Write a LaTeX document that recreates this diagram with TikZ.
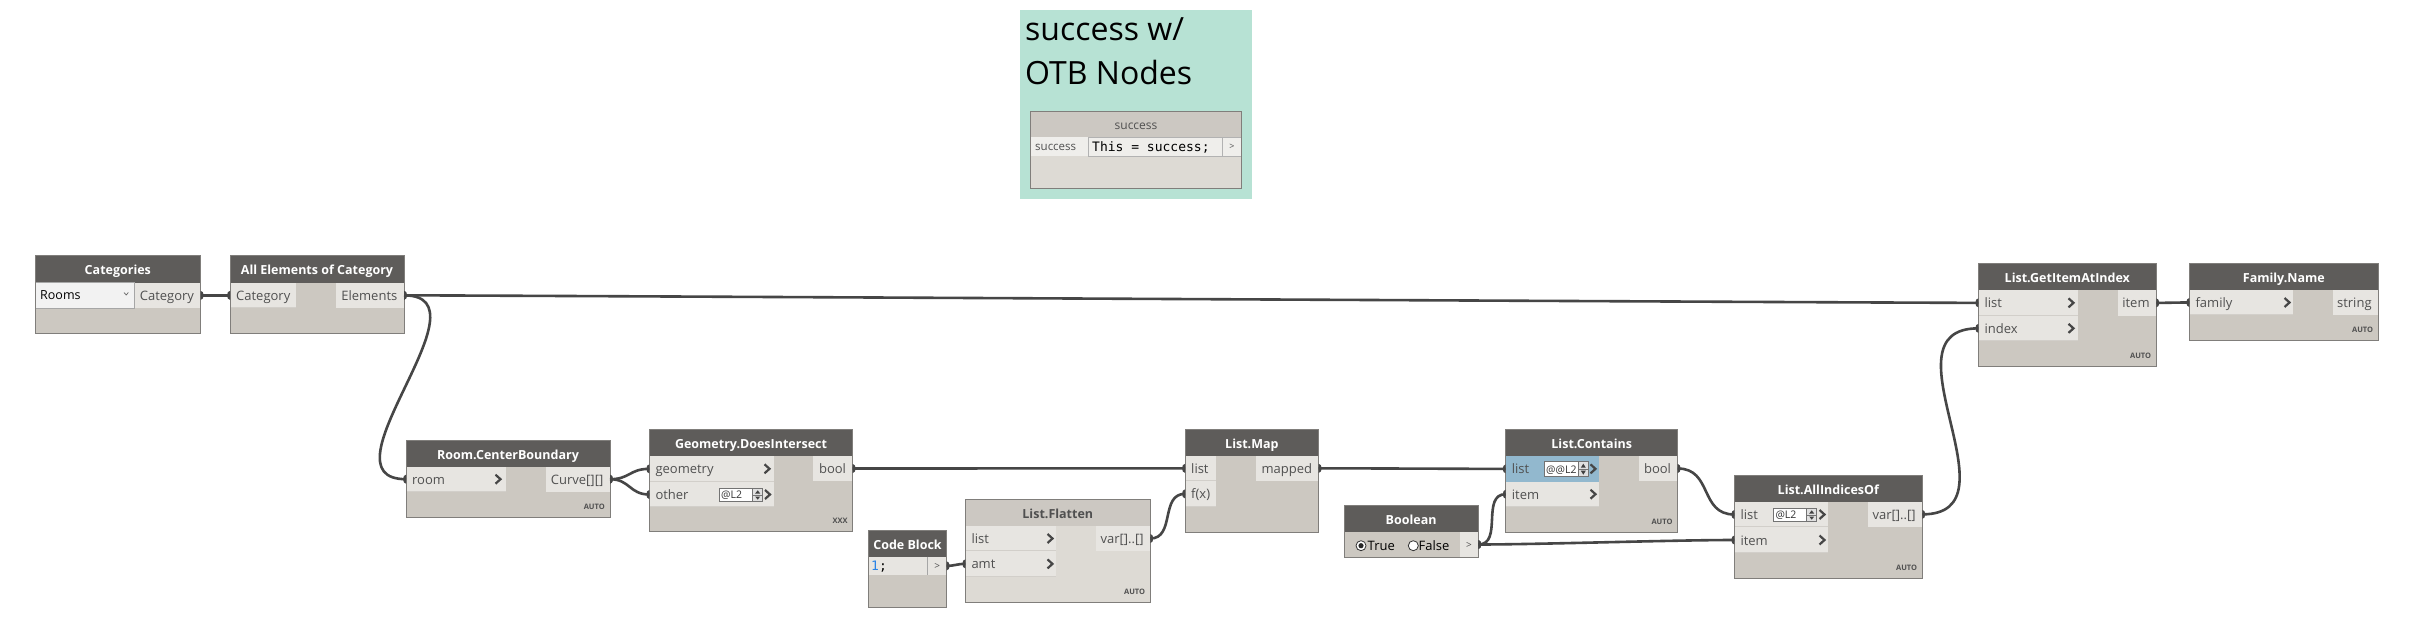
\documentclass[tikz,border=0pt]{standalone}
\usepackage{fontspec}
\setmainfont{Open Sans}
\newfontfamily\monof{DejaVu Sans Mono}
\usetikzlibrary{calc}
\definecolor{hdrc}{RGB}{94,92,90}
\definecolor{bodyc}{RGB}{204,200,193}
\definecolor{portc}{RGB}{231,229,225}
\definecolor{sepc}{RGB}{210,207,202}
\definecolor{bordc}{RGB}{128,126,123}
\definecolor{wirec}{RGB}{70,70,70}
\definecolor{greenc}{RGB}{183,226,212}
\definecolor{lhdrc}{RGB}{204,200,194}
\definecolor{lbodyc}{RGB}{221,218,212}
\definecolor{bluec}{RGB}{146,184,206}
\definecolor{txtc}{RGB}{80,80,80}
\definecolor{chevc}{RGB}{70,70,70}
\definecolor{codeblue}{RGB}{40,130,230}
\definecolor{codefield}{RGB}{239,238,235}
\tikzset{
  nbody/.style={fill=bodyc, anchor=north west, inner sep=0pt, outer sep=0pt, rectangle},
  htxt/.style={text=white, font=\fontsize{12.5}{14}\selectfont\bfseries, anchor=base, inner sep=0pt},
  pbox/.style={fill=portc, anchor=north west, inner sep=0pt, outer sep=0pt, rectangle},
  ptxt/.style={text=txtc, font=\fontsize{13}{15}\selectfont, inner sep=0pt},
  nframe/.style={draw=bordc, line width=1pt},
  wire/.style={draw=wirec, line width=2.6pt},
  chevst/.style={draw=chevc, line width=2.2pt},
  autotxt/.style={text=txtc, font=\fontsize{7.5}{8}\selectfont\bfseries, inner sep=0pt, anchor=base east},
  spbox/.style={fill=white, draw=black!55, line width=0.8pt, anchor=north west, inner sep=0pt, outer sep=0pt},
  sptxt/.style={anchor=base west, font=\fontsize{10.5}{11}\selectfont, text=black!80, inner sep=0pt},
  spinl/.style={draw=black!55, line width=0.6pt},
}
\newcommand{\dnode}[7]{%
  \node[nbody, minimum width={#4-#2}, minimum height={#5-#3}] (#1) at (#2,#3) {};
  \fill[hdrc] (#2,#3) rectangle (#4,#6);
  \node[htxt] (#1-t) at ({(#2+#4)/2},{#3+19}) {#7};
}
\newcommand{\dnodeL}[7]{%
  \node[nbody, fill=lbodyc, minimum width={#4-#2}, minimum height={#5-#3}] (#1) at (#2,#3) {};
  \fill[lhdrc] (#2,#3) rectangle (#4,#6);
  \node[htxt, text=txtc] (#1-t) at ({(#2+#4)/2},{#3+19}) {#7};
}
\newcommand{\dframe}[1]{\draw[nframe] (#1.north west) rectangle (#1.south east);}
\newcommand{\pin}[6]{%
  \node[pbox, minimum width={#4-#2}, minimum height={#5-#3}] (#1) at (#2,#3) {};
  \draw[sepc, line width=1pt] (#2,{#5-0.5}) -- (#4,{#5-0.5});
  \node[ptxt, anchor=base west] (#1-t) at ({#2+6},{(#3+#5)/2+5}) {#6};
}
\newcommand{\pout}[6]{%
  \node[pbox, minimum width={#4-#2}, minimum height={#5-#3}] (#1) at (#2,#3) {};
  \node[ptxt, anchor=base east] (#1-t) at ({#4-6.5},{(#3+#5)/2+5}) {#6};
}
\newcommand{\chev}[2]{\draw[chevst] ({#1-2.5},{#2-4.5}) -- ({#1+2.5},#2) -- ({#1-2.5},{#2+4.5});}
\newcommand{\autolbl}[2]{\node[autotxt] (#1-a) at ($(#1.south east)+(-5,-8)$) {#2};}
\newcommand{\spin}[6]{%
  \node[spbox, minimum width={#4-#2}, minimum height={#5-#3}] (#1) at (#2,#3) {};
  \fill[black!12] ({#4-10},#3) rectangle (#4,#5);
  \draw[spinl] (#1.north west) rectangle (#1.south east);
  \node[sptxt] (#1-t) at ({#2+2},{(#3+#5)/2+3.8}) {#6};
  \draw[spinl] ({#4-10},#3) -- ({#4-10},#5) ({#4-10},{(#3+#5)/2}) -- (#4,{(#3+#5)/2});
  \fill[black!75] ({#4-7.5},{(#3+#5)/2-1.5}) -- ({#4-2.5},{(#3+#5)/2-1.5}) -- ({#4-5},{#3+2}) -- cycle;
  \fill[black!75] ({#4-7.5},{(#3+#5)/2+1.5}) -- ({#4-2.5},{(#3+#5)/2+1.5}) -- ({#4-5},{#5-2}) -- cycle;
}
\newcommand{\wire}[3]{%
  \draw[wire] (#1.east) .. controls +(#3,0) and +(-#3,0) .. (#2.west);
  \fill[wirec] ([yshift=4.5pt]#1.east) arc[start angle=90,end angle=-90,x radius=3pt,y radius=4.5pt] -- cycle;
  \fill[wirec] ([yshift=4.5pt]#2.west) arc[start angle=90,end angle=270,x radius=3pt,y radius=4.5pt] -- cycle;
}
\begin{document}
\begin{tikzpicture}[x=1pt,y=-1pt]
\fill[white] (0,0) rectangle (2414,628);
\useasboundingbox (0,0) rectangle (2414,628);

% ---------- group ----------
\node[fill=greenc, anchor=north west, inner sep=0pt, minimum width=231.7, minimum height=189] (grp) at (1020,10) {};
\node[anchor=base west, font=\fontsize{32}{36}\selectfont, inner sep=0pt] (gt1) at (1025,40.7) {success w/};
\node[anchor=base west, font=\fontsize{32}{36}\selectfont, inner sep=0pt] (gt2) at (1025,85) {OTB Nodes};
% inner success node
\node[nbody, fill=lbodyc, minimum width=210.6, minimum height=76.6] (suc) at (1030.7,111.7) {};
\fill[lhdrc] (1030.7,111.7) rectangle (1241.3,137.3);
\node[anchor=base, text=txtc, font=\fontsize{12}{14}\selectfont, inner sep=0pt] (suc-t) at (1136,130) {success};
\node[pbox, fill=codefield, minimum width=57.3, minimum height=18.7] (suclab) at (1030.7,137.3) {};
\node[anchor=base west, text=txtc, font=\fontsize{11.5}{13}\selectfont, inner sep=0pt] (suclab-t) at (1035,151) {success};
\node[pbox, fill=codefield, draw=black!30, line width=0.6pt, minimum width=134.7, minimum height=18.7] (succode) at (1088,137.3) {};
\node[anchor=base west, font=\fontsize{13}{14}\monof, inner sep=0pt] (succode-t) at (1092,151.5) {This = success;};
\node[pbox, fill=codefield, draw=black!30, line width=0.6pt, minimum width=18.3, minimum height=18.7] (sucout) at (1222.7,137.3) {};
\node[anchor=base, text=txtc, font=\fontsize{9}{10}\selectfont, inner sep=0pt] (sucout-t) at (1232,150) {>};
\dframe{suc}

% ---------- Categories ----------
\dnode{cat}{35}{256}{200.7}{333}{282.7}{Categories}
\node[pbox, fill=black!5, draw=black!35, line width=0.8pt, minimum width=99.7, minimum height=25.3] (catdd) at (35,282.7) {};
\node[anchor=base west, font=\fontsize{12.5}{14}\selectfont, inner sep=0pt] (catdd-t) at (40,300) {Rooms};
\draw[black!60, line width=0.7pt] (124,292.5) -- (126.2,295) -- (128.4,292.5);
\pout{catout}{134.7}{282.7}{200.7}{308}{Category}
\dframe{cat}

% ---------- All Elements of Category ----------
\dnode{allel}{230}{256}{404}{333}{282.7}{All Elements of Category}
\pin{allelin}{230}{282.7}{296}{308}{Category}
\pout{allelout}{335.7}{282.7}{404}{308}{Elements}
\dframe{allel}

% ---------- Room.CenterBoundary ----------
\dnode{room}{406}{440}{610}{517.3}{466.7}{Room.CenterBoundary}
\pin{roomin}{406}{466.7}{506}{491.7}{room}
\chev{498}{479.2}
\pout{roomout}{545.7}{466.7}{610}{491.7}{Curve[][]}
\autolbl{room}{AUTO}
\dframe{room}

% ---------- Geometry.DoesIntersect ----------
\dnode{geo}{649.3}{429.3}{852.7}{531.7}{456}{Geometry.DoesIntersect}
\pin{geoin1}{649.3}{456}{774}{481.7}{geometry}
\chev{767}{468.8}
\pin{geoin2}{649.3}{481.7}{774}{507.3}{other}
\spin{geosp}{719}{488.3}{762.7}{501.7}{@L2}
\chev{767.5}{494.5}
\pout{geoout}{813}{456}{852.7}{481}{bool}
\autolbl{geo}{XXX}
\dframe{geo}

% ---------- Code Block ----------
\dnode{cb}{868.3}{530}{946.7}{607.3}{556.7}{Code Block}
\node[pbox, minimum width=59.4, minimum height=18.3] (cbcode) at (868.3,556.7) {};
\node[anchor=base west, font=\fontsize{13}{14}\monof, inner sep=0pt] (cbcode-t) at (871,570.5) {\textcolor{codeblue}{1};};
\node[pbox, minimum width=19, minimum height=18.3] (cbout) at (927.7,556.7) {};
\draw[black!35, line width=0.8pt] (927.7,556.7) -- (927.7,575);
\node[anchor=base, text=txtc, font=\fontsize{10}{11}\selectfont, inner sep=0pt] (cbout-t) at (937.2,569.5) {>};
\dframe{cb}

% ---------- List.Flatten ----------
\dnodeL{fl}{965.3}{499.3}{1150.3}{602.3}{526}{List.Flatten}
\pin{flin1}{965.3}{526}{1056}{551}{list}
\chev{1050}{538.5}
\pin{flin2}{965.3}{551}{1056}{576.7}{amt}
\chev{1050}{563.9}
\pout{flout}{1096}{526}{1150.3}{551}{var[]..[]}
\autolbl{fl}{AUTO}
\dframe{fl}

% ---------- List.Map ----------
\dnode{map}{1185}{429.3}{1318.7}{532.3}{455.7}{List.Map}
\pin{mapin1}{1185}{455.7}{1216}{481}{list}
\pin{mapin2}{1185}{481}{1216}{506.7}{f(x)}
\pout{mapout}{1256}{455.7}{1318.7}{481}{mapped}
\dframe{map}

% ---------- Boolean ----------
\dnode{bool}{1344}{505}{1478.3}{557.3}{531.7}{Boolean}
\draw[black!80, fill=white, line width=0.8pt] (1361,545.7) circle[radius=5];
\fill[black!85] (1361,545.7) circle[radius=2.6];
\node[anchor=base west, font=\fontsize{13}{15}\selectfont, inner sep=0pt] (bool-true) at (1367.5,550.5) {True};
\draw[black!80, fill=white, line width=0.8pt] (1413.3,545.7) circle[radius=5];
\node[anchor=base west, font=\fontsize{13}{15}\selectfont, inner sep=0pt] (bool-false) at (1418.5,550.5) {False};
\node[pbox, minimum width=18.3, minimum height=25.6] (boolout) at (1460,531.7) {};
\node[anchor=base, text=txtc, font=\fontsize{10}{11}\selectfont, inner sep=0pt] (boolout-t) at (1469,548.5) {>};
\dframe{bool}

% ---------- List.Contains ----------
\dnode{con}{1505.7}{429.3}{1677.7}{532.3}{456}{List.Contains}
\pin{conin1}{1505.7}{456}{1599}{481.7}{list}
\fill[bluec] (conin1.north west) rectangle (conin1.south east);
\node[ptxt, anchor=base west] (conin1-tb) at (1511.7,473.85) {list};
\spin{consp}{1544}{461.7}{1588.3}{476.7}{@@L2}
\chev{1593}{468.85}
\pin{conin2}{1505.7}{481.7}{1599}{506.7}{item}
\chev{1593}{494.2}
\pout{conout}{1639}{456}{1677.7}{481}{bool}
\autolbl{con}{AUTO}
\dframe{con}

% ---------- List.AllIndicesOf ----------
\dnode{aio}{1734.3}{475}{1922.3}{578.3}{501.7}{List.AllIndicesOf}
\pin{aioin1}{1734.3}{501.7}{1827.7}{527.3}{list}
\spin{aiosp}{1773.3}{508.3}{1816.7}{521.7}{@L2}
\chev{1822}{514.5}
\pin{aioin2}{1734.3}{527.3}{1827.7}{552.7}{item}
\chev{1822}{540}
\pout{aioout}{1868.3}{501.7}{1922.3}{527}{var[]..[]}
\autolbl{aio}{AUTO}
\dframe{aio}

% ---------- List.GetItemAtIndex ----------
\dnode{gia}{1978.3}{263.3}{2156.3}{366}{290}{List.GetItemAtIndex}
\pin{giain1}{1978.3}{290}{2078.3}{315.7}{list}
\chev{2071}{302.85}
\pin{giain2}{1978.3}{315.7}{2078.3}{341}{index}
\chev{2071}{328.35}
\pout{giaout}{2118}{290}{2156.3}{315.7}{item}
\autolbl{gia}{AUTO}
\dframe{gia}

% ---------- Family.Name ----------
\dnode{fam}{2189.3}{263.3}{2378.3}{340}{290}{Family.Name}
\pin{famin}{2189.3}{290}{2293.3}{315}{family}
\chev{2287}{302.5}
\pout{famout}{2332.7}{290}{2378.3}{315}{string}
\autolbl{fam}{AUTO}
\dframe{fam}

% ---------- wires ----------
\wire{catout}{allelin}{15}
\wire{allelout}{giain1}{90}
\wire{allelout}{roomin}{90}
\wire{roomout}{geoin1}{20}
\wire{roomout}{geoin2}{20}
\wire{geoout}{mapin1}{60}
\wire{cbout}{flin2}{8}
\wire{flout}{mapin2}{25}
\wire{mapout}{conin1}{60}
\wire{boolout}{conin2}{25}
\wire{boolout}{aioin2}{60}
\wire{conout}{aioin1}{35}
\wire{aioout}{giain2}{100}
\wire{giaout}{famin}{15}
\end{tikzpicture}
\end{document}
